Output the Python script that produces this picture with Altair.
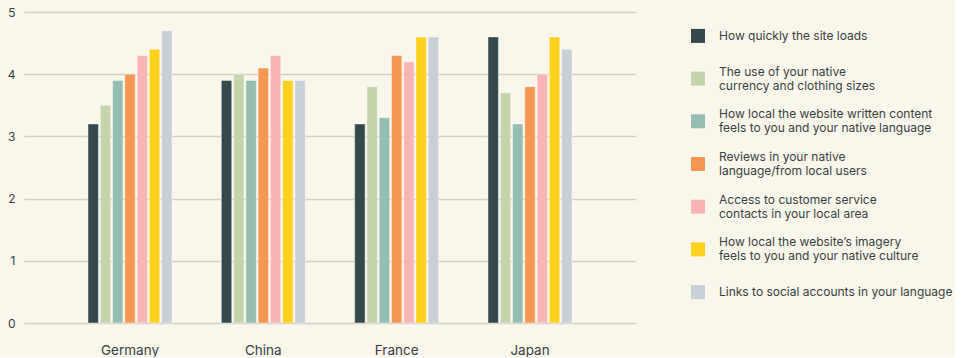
import altair as alt
import pandas as pd

countries = ["Germany", "China", "France", "Japan"]

series = [
    "How quickly the site loads",
    "The use of your native currency and clothing sizes",
    "How local the website written content feels to you and your native language",
    "Reviews in your native language/from local users",
    "Access to customer service contacts in your local area",
    "How local the website\u2019s imagery feels to you and your native culture",
    "Links to social accounts in your language",
]

# legend text, wrapped the way it is shown
series_labels = [
    "How quickly the site loads",
    "The use of your native\ncurrency and clothing sizes",
    "How local the website written content\nfeels to you and your native language",
    "Reviews in your native\nlanguage/from local users",
    "Access to customer service\ncontacts in your local area",
    "How local the website\u2019s imagery\nfeels to you and your native culture",
    "Links to social accounts in your language",
]

colors = ["#35494B", "#C5D4AB", "#96BDB1", "#F49752", "#F9B5B5", "#FFD11F", "#C8CFD5"]

# average scores per country, one list per series (Germany, China, France, Japan)
site_speed = [3.2, 3.9, 3.2, 4.6]
currency_sizes = [3.5, 4.0, 3.8, 3.7]
written_content = [3.9, 3.9, 3.3, 3.2]
reviews = [4.0, 4.1, 4.3, 3.8]
customer_service = [4.3, 4.3, 4.2, 4.0]
imagery = [4.4, 3.9, 4.6, 4.6]
social_links = [4.7, 3.9, 4.6, 4.4]

series_values = [site_speed, currency_sizes, written_content, reviews,
                 customer_service, imagery, social_links]

rows = []
for name, vals in zip(series, series_values):
    for country, v in zip(countries, vals):
        rows.append({"country": country, "series": name, "value": v})
df = pd.DataFrame(rows)

legend_df = pd.DataFrame({
    "series": series,
    "label": series_labels,
    "idx": list(range(len(series))),
    "lines": [s.count("\n") + 1 for s in series_labels],
})

color_scale = alt.Scale(domain=series, range=colors)
text_color = "#3A3F42"
font = "Inter"

bars = alt.Chart(df).mark_bar(
    stroke="#FFFFFF", strokeWidth=0.8, strokeOpacity=0.55
).encode(
    x=alt.X(
        "country:N", sort=countries,
        scale=alt.Scale(paddingInner=0.37, paddingOuter=0.48),
        axis=alt.Axis(title=None, labelAngle=0, domain=False, ticks=False,
                      labelPadding=20, labelFontSize=13.5, labelColor=text_color,
                      labelFont=font),
    ),
    xOffset=alt.XOffset("series:N", sort=series, scale=alt.Scale(paddingInner=0.15)),
    y=alt.Y(
        "value:Q",
        scale=alt.Scale(domain=[0, 5]),
        axis=alt.Axis(title=None, values=[0, 1, 2, 3, 4, 5], domain=False, ticks=False,
                      labelPadding=9, labelFontSize=12, labelColor=text_color,
                      labelFont=font, gridColor="#D3D0C3", gridWidth=1.5),
    ),
    color=alt.Color("series:N", scale=color_scale, legend=None),
).properties(width=612, height=311)

legend_y = alt.Y("idx:O", axis=None, scale=alt.Scale(padding=0.56))

legend_squares = alt.Chart(legend_df).mark_square(size=196, opacity=1).encode(
    x=alt.value(7),
    y=legend_y,
    color=alt.Color("series:N", scale=color_scale, legend=None),
)

text_style = dict(align="left", baseline="middle", lineBreak="\n", lineHeight=14,
                  fontSize=12, font=font, color=text_color)

# one-line labels sit on the square's centre, two-line labels are centred as a block
legend_text_single = alt.Chart(legend_df).transform_filter(
    alt.datum.lines == 1
).mark_text(**text_style).encode(
    x=alt.value(28), y=legend_y, text="label:N",
)

legend_text_double = alt.Chart(legend_df).transform_filter(
    alt.datum.lines == 2
).mark_text(dy=-7, **text_style).encode(
    x=alt.value(28), y=legend_y, text="label:N",
)

legend = alt.layer(legend_squares, legend_text_single, legend_text_double).properties(
    width=258, height=304
)

chart = alt.hconcat(bars, legend, spacing=55, bounds="flush").properties(
    padding={"left": 7, "top": 6, "right": 2, "bottom": 0}
).configure(
    background="#F9F7EC"
).configure_view(
    stroke=None
)

chart.save("out.html", embed_options={"renderer": "svg", "actions": False})
